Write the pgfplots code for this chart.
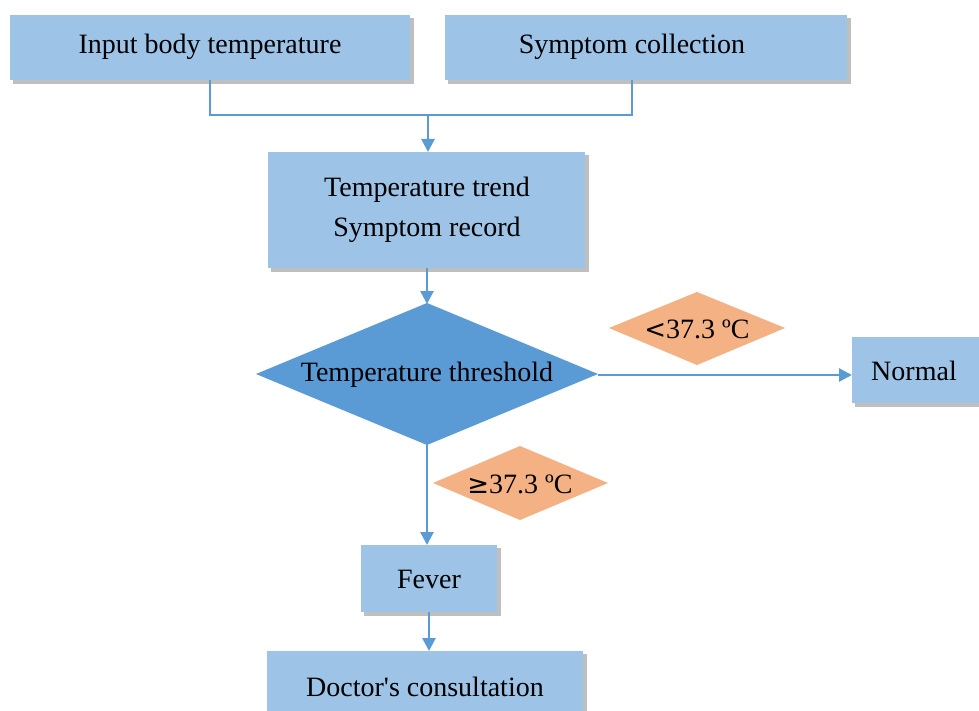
\documentclass[border=0pt]{standalone}
\usepackage{pgfplots}
\pgfplotsset{compat=1.18}
\usepackage{fontspec}
\newfontfamily\ff{Liberation Serif}
\newfontfamily\sym{DejaVu Sans}
\usetikzlibrary{arrows.meta}
\definecolor{boxblue}{HTML}{9DC3E6}
\definecolor{dblue}{HTML}{5B9BD5}
\definecolor{lineblue}{HTML}{5B9BD5}
\definecolor{orng}{HTML}{F4B183}
\tikzset{
  tt/.style={font=\ff\fontsize{28}{40}\selectfont,text=black,align=center,inner sep=0pt},
  conn/.style={draw=lineblue,line width=2.6pt},
  arr/.style={draw=lineblue,line width=2.6pt,-{Triangle[length=13pt,width=13pt]}},
  shad/.style={draw=none,fill=black!45,opacity=0.55},
  bx/.style={draw=none,fill=boxblue}}
\begin{document}
\begin{tikzpicture}
\begin{axis}[x=1pt,y=1pt,y dir=reverse,xmin=0,xmax=979,ymin=0,ymax=711,
  axis lines=none,scale only axis,clip=true]
% background (sets the page size)
\addplot[draw=none,fill=white] coordinates {(0,0)(979,0)(979,711)(0,711)} --cycle;
% shadows
\addplot[shad] coordinates {(13,18)(414,18)(414,84)(13,84)} --cycle;
\addplot[shad] coordinates {(448,18)(851,18)(851,84)(448,84)} --cycle;
\addplot[shad] coordinates {(271,155)(589,155)(589,272)(271,272)} --cycle;
\addplot[shad] coordinates {(855,340)(979,340)(979,407)(855,407)} --cycle;
\addplot[shad] coordinates {(364,548)(501,548)(501,616)(364,616)} --cycle;
\addplot[shad] coordinates {(270,654)(587,654)(587,711)(270,711)} --cycle;
% boxes
\addplot[bx] coordinates {(10,15)(410,15)(410,80)(10,80)} --cycle;
\addplot[bx] coordinates {(445,15)(847,15)(847,80)(445,80)} --cycle;
\addplot[bx] coordinates {(268,152)(585,152)(585,268)(268,268)} --cycle;
\addplot[bx] coordinates {(852,337)(979,337)(979,403)(852,403)} --cycle;
\addplot[bx] coordinates {(361,545)(497,545)(497,612)(361,612)} --cycle;
\addplot[bx] coordinates {(267,651)(583,651)(583,711)(267,711)} --cycle;
% connectors
\addplot[conn] coordinates {(210,80)(210,115)(632,115)(632,80)};
\addplot[arr] coordinates {(428,115)(428,152)};
\addplot[arr] coordinates {(427,268)(427,304)};
\addplot[arr] coordinates {(598,375)(852,375)};
\addplot[arr] coordinates {(427,444)(427,545)};
\addplot[arr] coordinates {(429,612)(429,651)};
% decision diamond
\addplot[draw=none,fill=dblue] coordinates {(256,374)(427,303)(598,374)(427,445)} --cycle;
% condition diamonds
\addplot[draw=none,fill=orng] coordinates {(609,328)(697,292)(785,328)(697,365)} --cycle;
\addplot[draw=none,fill=orng] coordinates {(433,483)(520,446)(608,483)(520,520)} --cycle;
% texts
\node[tt] at (210,47) {Input body temperature};
\node[tt] at (632,47) {Symptom collection};
\node[tt] at (427,210) {Temperature trend\\Symptom record};
\node[tt] at (427,375) {Temperature threshold};
\node[tt] at (914,371) {Normal};
\node[tt] at (429,579) {Fever};
\node[tt] at (425,687) {Doctor's consultation};
\node[tt] at (697,329) {{\sym\fontsize{26}{30}\selectfont <}37.3 ºC};
\node[tt] at (520,484) {{\sym\fontsize{26}{30}\selectfont ≥}37.3 ºC};
\end{axis}
\end{tikzpicture}
\end{document}
